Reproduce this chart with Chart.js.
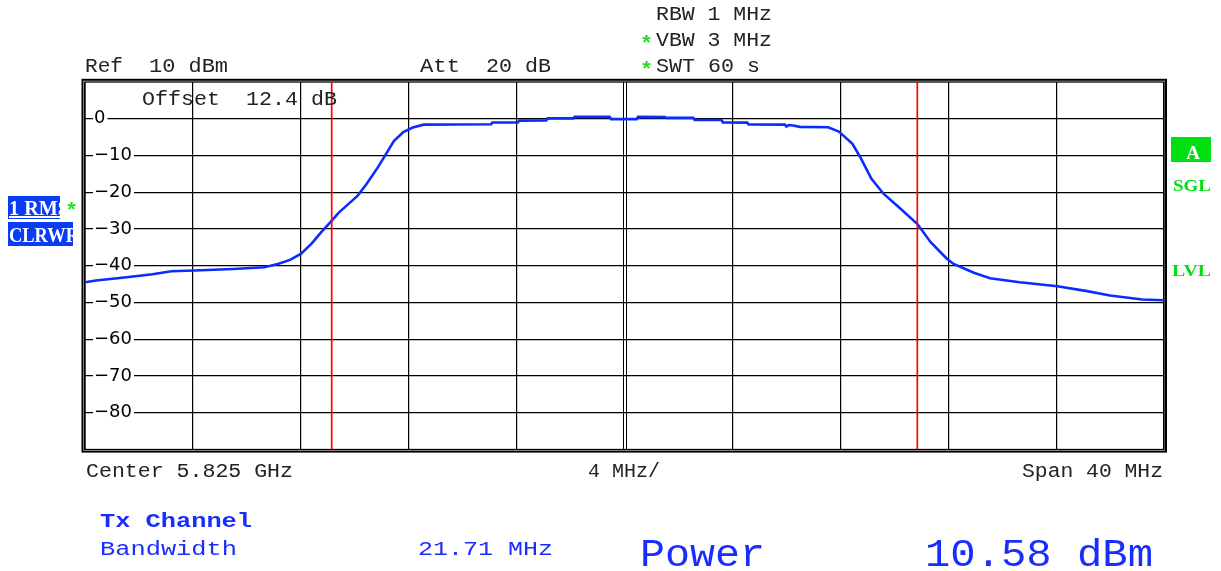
<!DOCTYPE html>
<html>
<head>
<meta charset="utf-8">
<script src="https://cdn.jsdelivr.net/npm/chart.js@4.4.1/dist/chart.umd.min.js"></script>
<style>
  html, body { margin: 0; padding: 0; background: #fff; }
  #wrap { position: relative; width: 1221px; height: 571px; overflow: hidden; }
  #c { position: absolute; left: 0; top: 0; }
  #ov { position: absolute; left: 0; top: 0; pointer-events: none; }
  .mono { font-family: "Liberation Mono", "DejaVu Sans Mono", monospace; }
  .serif { font-family: "Liberation Serif", "DejaVu Serif", serif; }
</style>
</head>
<body>
<div id="wrap">
  <canvas id="c" width="1221" height="571"></canvas>
  <svg id="ov" width="1221" height="571" xmlns="http://www.w3.org/2000/svg">
    <defs>
      <clipPath id="clipRM"><rect x="8" y="196" width="52" height="23"/></clipPath>
      <clipPath id="clipCL"><rect x="8" y="222" width="65" height="24"/></clipPath>
    </defs>
    <!-- header -->
    <g class="mono" font-size="20" fill="#222">
      <text x="656" y="20" textLength="116" lengthAdjust="spacingAndGlyphs">RBW 1 MHz</text>
      <text x="656" y="46" textLength="116" lengthAdjust="spacingAndGlyphs">VBW 3 MHz</text>
      <text x="656" y="72" textLength="104" lengthAdjust="spacingAndGlyphs">SWT 60 s</text>
      <text x="85" y="72" textLength="38" lengthAdjust="spacingAndGlyphs">Ref</text>
      <text x="149" y="72" textLength="79" lengthAdjust="spacingAndGlyphs">10 dBm</text>
      <text x="420" y="72" textLength="40" lengthAdjust="spacingAndGlyphs">Att</text>
      <text x="486" y="72" textLength="65" lengthAdjust="spacingAndGlyphs">20 dB</text>
      <text x="142" y="105" textLength="78" lengthAdjust="spacingAndGlyphs">Offset</text>
      <text x="246" y="105" textLength="91" lengthAdjust="spacingAndGlyphs">12.4 dB</text>
      <text x="86" y="477" textLength="207" lengthAdjust="spacingAndGlyphs">Center 5.825 GHz</text>
      <text x="588" y="477" textLength="72" lengthAdjust="spacingAndGlyphs">4 MHz/</text>
      <text x="1022" y="477" textLength="141" lengthAdjust="spacingAndGlyphs">Span 40 MHz</text>
    </g>
    <g class="mono" font-size="20" font-weight="bold" fill="#22dd22">
      <text x="640" y="50" textLength="13" lengthAdjust="spacingAndGlyphs">*</text>
      <text x="640" y="76" textLength="13" lengthAdjust="spacingAndGlyphs">*</text>
      <text x="65" y="217" textLength="13" lengthAdjust="spacingAndGlyphs">*</text>
    </g>
    <!-- left badges -->
    <rect x="8" y="196" width="52" height="23" fill="#0b3cf5"/>
    <rect x="8" y="222" width="65" height="24" fill="#0b3cf5"/>
    <g class="serif" font-weight="bold" fill="#fff" font-size="20">
      <text x="9" y="215" clip-path="url(#clipRM)" textLength="60" lengthAdjust="spacingAndGlyphs" text-decoration="underline">1 RMS</text>
      <text x="9" y="242" clip-path="url(#clipCL)" textLength="70" lengthAdjust="spacingAndGlyphs">CLRWR</text>
    </g>
    <!-- right status -->
    <rect x="1171" y="137" width="40" height="25" fill="#00e010"/>
    <g class="serif" font-weight="bold">
      <text x="1193" y="159" text-anchor="middle" font-size="19" fill="#fff">A</text>
      <text x="1173" y="191" font-size="17" fill="#00e010" textLength="38" lengthAdjust="spacingAndGlyphs">SGL</text>
      <text x="1172" y="276" font-size="17" fill="#00e010" textLength="39" lengthAdjust="spacingAndGlyphs">LVL</text>
    </g>
    <!-- bottom result block -->
    <g fill="#1a2dff">
      <text class="mono" x="100" y="527" font-size="20" font-weight="bold" textLength="152" lengthAdjust="spacingAndGlyphs">Tx Channel</text>
      <text class="mono" x="100" y="555" font-size="20" textLength="137" lengthAdjust="spacingAndGlyphs">Bandwidth</text>
      <text class="mono" x="418" y="555" font-size="20" textLength="135" lengthAdjust="spacingAndGlyphs">21.71 MHz</text>
      <text class="mono" x="640" y="566" font-size="38" textLength="125" lengthAdjust="spacingAndGlyphs">Power</text>
      <text class="mono" x="925" y="566" font-size="38" textLength="228" lengthAdjust="spacingAndGlyphs">10.58 dBm</text>
    </g>
  </svg>
</div>
<script>
// ---- data ----
const freqMHz = [
  -20.00, -19.60, -18.80, -18.05, -17.50, -16.80, -15.95, -14.50, -13.35, -12.85,
  -12.40, -12.00, -11.60, -11.25, -10.90, -10.60, -10.25, -9.90, -9.55, -9.15,
  -8.90, -8.55, -8.20, -7.85, -7.45, -4.95, -4.90, -3.95, -3.90, -2.90,
  -2.85, -1.90, -1.85, -0.55, -0.50, 0.45, 0.50, 1.50, 1.55, 2.55,
  2.60, 3.60, 3.65, 4.55, 4.60, 5.95, 6.00, 6.10, 6.30, 6.50,
  7.55, 7.95, 8.45, 8.75, 9.15, 9.60, 10.10, 10.85, 11.35, 11.95,
  12.20, 12.95, 13.55, 14.65, 16.05, 17.15, 18.00, 19.20, 20.00
];
const levelDbm = [
  -44.5, -44.0, -43.4, -42.8, -42.3, -41.5, -41.3, -40.9, -40.4, -39.5,
  -38.4, -36.8, -34.0, -30.9, -28.1, -25.6, -23.3, -21.0, -17.6, -13.3,
  -10.3, -6.1, -3.6, -2.4, -1.6, -1.5, -1.0, -1.0, -0.5, -0.45,
  0.1, 0.1, 0.5, 0.5, -0.1, -0.1, 0.5, 0.45, 0.25, 0.25,
  -0.3, -0.35, -1.0, -1.05, -1.55, -1.6, -2.1, -1.7, -1.9, -2.2,
  -2.3, -3.5, -6.8, -10.6, -16.3, -20.4, -23.6, -28.6, -33.6, -38.1,
  -39.5, -41.9, -43.4, -44.5, -45.6, -46.9, -48.1, -49.2, -49.4
];
const markerFreqMHz = [-10.855, 10.855];
const yTickValues = [0, -10, -20, -30, -40, -50, -60, -70, -80];
const yTickLabels = ['0', '\u221210', '\u221220', '\u221230', '\u221240', '\u221250', '\u221260', '\u221270', '\u221280'];
const xMin = -20, xMax = 20, xStep = 4;
const yMin = -90, yMax = 10;

// ---- plugin: instrument frame and centre double line ----
const framePlugin = {
  id: 'frame',
  beforeDatasetsDraw(chart) {
    const { ctx, chartArea: a, scales } = chart;
    ctx.save();
    const cx = scales.x.getPixelForValue(0);
    ctx.strokeStyle = '#000';
    ctx.lineWidth = 1;
    ctx.beginPath();
    ctx.moveTo(Math.round(cx - 1.5) + 0.5, a.top); ctx.lineTo(Math.round(cx - 1.5) + 0.5, a.bottom);
    ctx.moveTo(Math.round(cx + 1.5) + 0.5, a.top); ctx.lineTo(Math.round(cx + 1.5) + 0.5, a.bottom);
    ctx.stroke();
    ctx.lineWidth = 1.3;
    ctx.strokeRect(a.left, a.top, a.right - a.left, a.bottom - a.top);
    ctx.lineWidth = 2;
    ctx.strokeRect(a.left - 2.5, a.top - 2.2, a.right - a.left + 4.5, a.bottom - a.top + 4.3);
    ctx.restore();
  }
};

const traceData = freqMHz.map((f, i) => ({ x: f, y: levelDbm[i] }));
const markerSets = markerFreqMHz.map(f => ({
  data: [{ x: f, y: yMax }, { x: f, y: yMin }],
  borderColor: '#ff0000',
  borderWidth: 1.7,
  pointRadius: 0,
  tension: 0
}));

new Chart(document.getElementById('c'), {
  type: 'line',
  data: {
    datasets: [
      ...markerSets,
      {
        data: traceData,
        borderColor: '#0a2cff',
        borderWidth: 2.6,
        pointRadius: 0,
        tension: 0
      }
    ]
  },
  options: {
    responsive: false,
    animation: false,
    devicePixelRatio: 1,
    layout: { padding: { left: 85, top: 82, right: 57, bottom: 121.5 } },
    plugins: { legend: { display: false }, tooltip: { enabled: false } },
    scales: {
      x: {
        type: 'linear',
        min: xMin, max: xMax,
        afterFit: (s) => { s.height = 0; },
        ticks: { display: false, stepSize: xStep },
        grid: {
          drawTicks: false,
          color: (c) => (c.tick && c.tick.value === 0) ? 'rgba(0,0,0,0)' : '#000',
          lineWidth: 1.2
        },
        border: { display: false }
      },
      y: {
        type: 'linear',
        min: yMin, max: yMax,
        afterFit: (s) => { s.width = 0; },
        afterBuildTicks: (scale) => { scale.ticks = yTickValues.map(v => ({ value: v })); },
        ticks: {
          mirror: true,
          padding: 9,
          color: '#000',
          font: { family: 'DejaVu Sans', size: 18 },
          showLabelBackdrop: true,
          backdropColor: '#fff',
          backdropPadding: { left: 1, right: 2, top: 0, bottom: 0 },
          callback: (v) => {
            const i = yTickValues.indexOf(v);
            return i >= 0 ? yTickLabels[i] : '';
          }
        },
        grid: { drawTicks: false, color: '#000', lineWidth: 1.2 },
        border: { display: false }
      }
    }
  },
  plugins: [framePlugin]
});
</script>
</body>
</html>
